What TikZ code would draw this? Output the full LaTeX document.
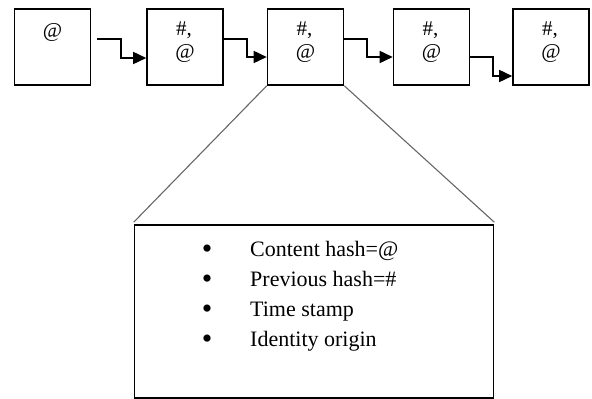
\documentclass[tikz,border=0pt]{standalone}
\usepackage{fontspec}
\setmainfont{Liberation Serif}
\usetikzlibrary{arrows.meta,calc}
\begin{document}
\begin{tikzpicture}[x=1pt,y=-1pt,
  blk/.style={draw=black,line width=1.6pt,minimum width=76pt,minimum height=76pt,inner sep=0pt},
  btxt/.style={font=\fontsize{21}{23}\selectfont,inner sep=0pt},
  link/.style={line width=1.6pt,-{Triangle[length=13pt,width=12pt]}},
  zoomln/.style={draw=black!60,line width=1.1pt},
  ltxt/.style={font=\fontsize{22}{24}\selectfont,inner sep=0pt,anchor=base west},
  bul/.style={font=\fontsize{30}{32}\selectfont,inner sep=0pt,anchor=base}]
\useasboundingbox (0,0) rectangle (592,399);
\node[blk] (b1) at (52.5,47) {};
\node[blk] (b2) at (185,47) {};
\node[blk] (b3) at (305.5,47) {};
\node[blk] (b4) at (431.5,47) {};
\node[blk] (b5) at (551,47) {};
\node[btxt] (t1) at (52.5,33) {@};
\foreach \n/\x in {2/185,3/305.5,4/431.5,5/551}{
  \node[btxt] (h\n) at (\x-1,30) {\#,};
  \node[btxt] (a\n) at (\x,53) {@};
}
\coordinate (s1) at (97,39);
\draw[link] (s1) -- (121,39) -- (121,58) -- (b2.west |- 0,58);
\draw[link] (b2.east |- 0,39) -- (247,39) -- (247,57) -- (b3.west |- 0,57);
\draw[link] (b3.east |- 0,39) -- (367,39) -- (367,57) -- (b4.west |- 0,57);
\draw[link] (b4.east |- 0,57) -- (493,57) -- (493,76) -- (b5.west |- 0,76);
\node[draw=black,line width=1.6pt,minimum width=359pt,minimum height=173pt,inner sep=0pt] (big) at (314,311.5) {};
\draw[zoomln] (b3.south west) -- ($(big.north west)+(0,-2)$);
\draw[zoomln] (b3.south east) -- ($(big.north east)+(0,-2)$);
\node[bul] (u1) at (207,258) {•};
\node[bul] (u2) at (207,288) {•};
\node[bul] (u3) at (207,318) {•};
\node[bul] (u4) at (207,348) {•};
\node[ltxt] (l1) at (250,256) {Content hash=@};
\node[ltxt] (l2) at (250,286) {Previous hash=\#};
\node[ltxt] (l3) at (250,316) {Time stamp};
\node[ltxt] (l4) at (250,346) {Identity origin};
\end{tikzpicture}
\end{document}
